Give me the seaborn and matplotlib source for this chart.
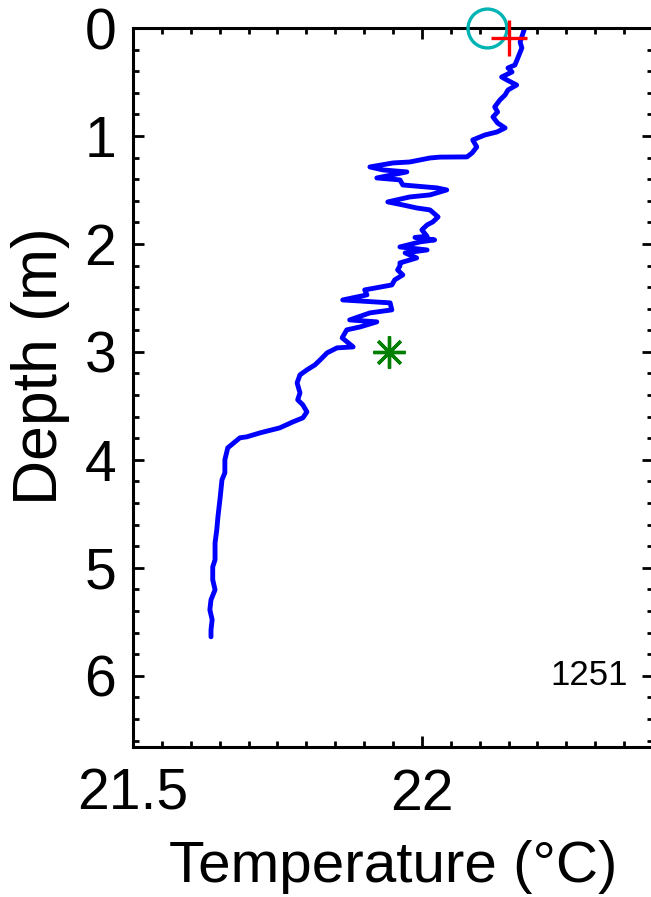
import numpy as np
import pandas as pd
import matplotlib
matplotlib.use("Agg")
import matplotlib.pyplot as plt
from matplotlib.ticker import MultipleLocator
import seaborn as sns

# ---- data ----
temperature = [22.178, 22.170, 22.173, 22.166, 22.161, 22.149, 22.156, 22.138, 22.147, 22.164,
               22.149, 22.144, 22.135, 22.126, 22.131, 22.123, 22.131, 22.144, 22.130, 22.109,
               22.088, 22.095, 22.087, 22.078, 22.031, 22.014, 21.979, 21.950, 21.910, 21.933,
               21.974, 21.922, 21.962, 21.967, 22.026, 22.043, 22.014, 21.979, 21.941, 21.967,
               21.991, 22.014, 22.028, 22.019, 22.009, 22.000, 22.009, 21.988, 22.022, 21.997,
               21.962, 22.009, 21.971, 21.991, 21.962, 21.962, 21.958, 21.967, 21.953, 21.948,
               21.901, 21.905, 21.863, 21.945, 21.948, 21.910, 21.875, 21.922, 21.893, 21.870,
               21.862, 21.881, 21.853, 21.836, 21.824, 21.815, 21.801, 21.789, 21.784, 21.789,
               21.785, 21.794, 21.801, 21.794, 21.777, 21.754, 21.720, 21.697, 21.685, 21.664,
               21.659, 21.659, 21.654, 21.651, 21.649, 21.647, 21.645, 21.642, 21.642, 21.638,
               21.638, 21.642, 21.635, 21.633, 21.637, 21.635, 21.635]
depth = [0.000, 0.130, 0.185, 0.278, 0.343, 0.370, 0.407, 0.454, 0.481, 0.528,
         0.574, 0.620, 0.667, 0.731, 0.778, 0.824, 0.880, 0.926, 0.963, 0.991,
         1.037, 1.102, 1.157, 1.194, 1.196, 1.204, 1.241, 1.250, 1.287, 1.315,
         1.333, 1.389, 1.407, 1.454, 1.481, 1.500, 1.546, 1.565, 1.611, 1.639,
         1.667, 1.685, 1.750, 1.796, 1.824, 1.870, 1.930, 1.940, 1.963, 1.981,
         2.028, 2.056, 2.083, 2.130, 2.176, 2.204, 2.241, 2.287, 2.333, 2.380,
         2.426, 2.472, 2.519, 2.546, 2.611, 2.639, 2.704, 2.722, 2.769, 2.796,
         2.870, 2.954, 2.963, 3.009, 3.074, 3.120, 3.167, 3.213, 3.287, 3.380,
         3.444, 3.491, 3.556, 3.611, 3.648, 3.704, 3.750, 3.787, 3.796, 3.889,
         4.000, 4.120, 4.185, 4.343, 4.435, 4.528, 4.648, 4.769, 4.926, 4.991,
         5.111, 5.204, 5.296, 5.389, 5.481, 5.574, 5.639]

circle_temp, circle_depth = [22.112], [0.0]
plus_temp, plus_depth = [22.150], [0.09]
star_temp, star_depth = [21.943], [3.0]

x_ticks = [21.5, 22.0]
x_ticklabels = ["21.5", "22"]
y_ticks = [0, 1, 2, 3, 4, 5, 6]
station_label = "1251"

df = pd.DataFrame({"temperature": temperature, "depth": depth})

sns.set_theme(style="ticks")
plt.rcParams["font.family"] = ["Liberation Sans", "DejaVu Sans"]
plt.rcParams["text.color"] = "black"
plt.rcParams["axes.labelcolor"] = "black"
plt.rcParams["xtick.color"] = "black"
plt.rcParams["ytick.color"] = "black"

fig = plt.figure(figsize=(6.51, 8.97), dpi=100)
ax = fig.add_axes([133 / 651, 1 - 747 / 897, (653 - 133) / 651, (747 - 28) / 897])

sns.lineplot(data=df, x="temperature", y="depth", sort=False, estimator=None,
             color="#0000ff", linewidth=3.5, ax=ax)

ax.plot(circle_temp, circle_depth, marker="o", markersize=28, markerfacecolor="none",
        markeredgecolor="#00b4b4", markeredgewidth=2.4, linestyle="none", clip_on=False, zorder=5)
ax.plot(plus_temp, plus_depth, marker="+", markersize=26, color="#ff0000",
        markeredgewidth=2.4, linestyle="none", clip_on=False, zorder=5)
ax.plot(star_temp, star_depth, marker=(8, 2, 0), markersize=23, color="#007f00",
        markeredgewidth=2.4, linestyle="none", clip_on=False, zorder=5)

ax.set_xlim(21.5, 22.4)
ax.set_ylim(6.66, 0)
ax.set_xticks(x_ticks)
ax.set_xticklabels(x_ticklabels)
ax.set_yticks(y_ticks)
ax.xaxis.set_minor_locator(MultipleLocator(0.05))
ax.yaxis.set_minor_locator(MultipleLocator(0.2))
ax.tick_params(which="both", direction="in", top=True, right=True, width=2, color="black",
               labelcolor="black")
ax.tick_params(which="major", length=8, labelsize=41)
ax.tick_params(which="minor", length=4)
ax.tick_params(axis="x", which="major", pad=15)
ax.tick_params(axis="y", which="major", pad=12)
for s in ax.spines.values():
    s.set_linewidth(2.2)
    s.set_color("black")

ax.set_xlabel("Temperature (°C)", fontsize=42, labelpad=13, color="black")
ax.set_ylabel("Depth (m)", fontsize=45, color="black")
ax.yaxis.set_label_coords(-0.122, 0.53)
ax.text(22.356, 6.0, station_label, ha="right", va="center", fontsize=25, color="black")

fig.savefig("out.png", dpi=100)
